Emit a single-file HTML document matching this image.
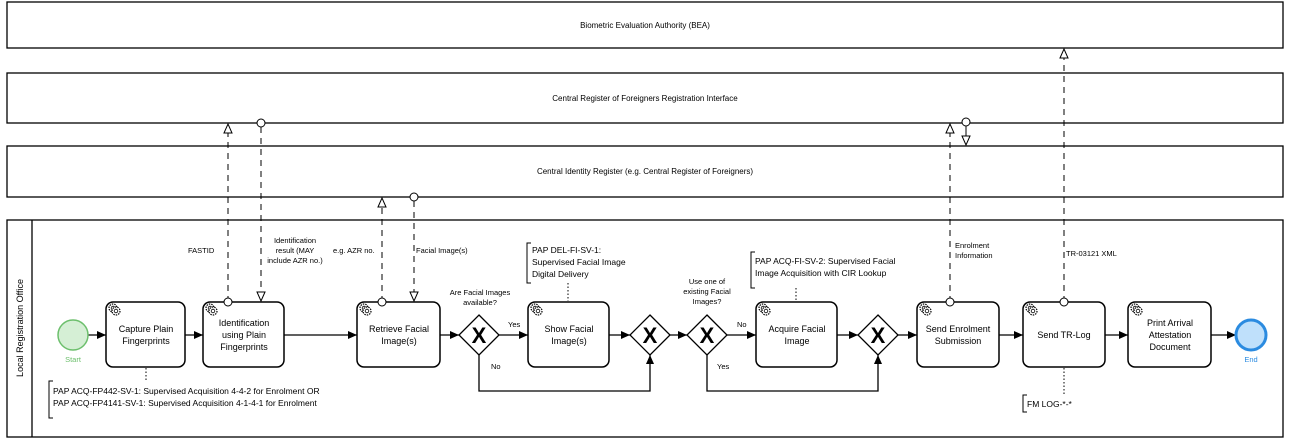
<!DOCTYPE html>
<html><head><style>
body{margin:0;background:#fff;}
svg{display:block;font-family:"Liberation Sans",Arial,sans-serif;}
</style></head><body>
<svg width="1290" height="439" viewBox="0 0 1290 439" xmlns="http://www.w3.org/2000/svg">
<defs>
<marker id="a" markerWidth="10" markerHeight="10" refX="9" refY="5" orient="auto" markerUnits="userSpaceOnUse"><path d="M0,1 L9,5 L0,9 Z" fill="#000"/></marker>
<marker id="o" markerWidth="12" markerHeight="12" refX="10" refY="5" orient="auto" markerUnits="userSpaceOnUse"><path d="M1,1 L10,5 L1,9 Z" fill="#fff" stroke="#000" stroke-width="1"/></marker>
<g id="gear"><circle cx="0" cy="0" r="4" fill="none" stroke="#000" stroke-width="1.2" stroke-dasharray="1.5 1"/><circle cx="0" cy="0" r="1.8" fill="none" stroke="#000" stroke-width="0.8"/><circle cx="3" cy="3" r="4" fill="#fff" stroke="#000" stroke-width="1.2" stroke-dasharray="1.5 1"/><circle cx="3" cy="3" r="1.8" fill="none" stroke="#000" stroke-width="0.8"/></g>
</defs>
<g fill="none" stroke="#000" stroke-width="1.3">
<rect x="7" y="2" width="1276" height="46"/>
<rect x="7" y="73" width="1276" height="50"/>
<rect x="7" y="146" width="1276" height="51"/>
<rect x="7" y="220" width="1276" height="217"/>
<line x1="32" y1="220" x2="32" y2="437"/>
</g>
<g font-size="8" text-anchor="middle" fill="#000">
<text x="645" y="28">Biometric Evaluation Authority (BEA)</text>
<text x="645" y="101">Central Register of Foreigners Registration Interface</text>
<text x="645" y="174">Central Identity Register (e.g. Central Register of Foreigners)</text>
<text transform="translate(23,328) rotate(-90)" font-size="9">Local Registration Office</text>
</g>
<g stroke="#000" stroke-width="1" stroke-dasharray="6 5" fill="none">
<line x1="228" y1="302" x2="228" y2="124" marker-end="url(#o)"/>
<line x1="261" y1="127" x2="261" y2="301" marker-end="url(#o)"/>
<line x1="382" y1="302" x2="382" y2="198" marker-end="url(#o)"/>
<line x1="414" y1="201" x2="414" y2="301" marker-end="url(#o)"/>
<line x1="950" y1="302" x2="950" y2="124" marker-end="url(#o)"/>
<line x1="1064" y1="302" x2="1064" y2="49" marker-end="url(#o)"/>
</g>
<line x1="966" y1="126" x2="966" y2="145" stroke="#000" stroke-width="1" marker-end="url(#o)"/>
<g font-size="7.5" fill="#000">
<text x="188" y="253">FASTID</text>
<text x="295" y="243" text-anchor="middle">Identification</text>
<text x="295" y="253" text-anchor="middle">result (MAY</text>
<text x="295" y="263" text-anchor="middle">include AZR no.)</text>
<text x="333" y="253">e.g. AZR no.</text>
<text x="416" y="253">Facial Image(s)</text>
<text x="955" y="248">Enrolment</text>
<text x="955" y="258">Information</text>
<text x="1066" y="256">TR-03121 XML</text>
<text x="480" y="295" text-anchor="middle">Are Facial Images</text>
<text x="480" y="305" text-anchor="middle">available?</text>
<text x="508" y="327">Yes</text>
<text x="491" y="369">No</text>
<text x="707" y="284" text-anchor="middle">Use one of</text>
<text x="707" y="294" text-anchor="middle">existing Facial</text>
<text x="707" y="304" text-anchor="middle">Images?</text>
<text x="737" y="327">No</text>
<text x="717" y="369">Yes</text>
</g>
<g stroke="#000" stroke-width="1.3" fill="none" marker-end="url(#a)">
<line x1="88" y1="335" x2="106" y2="335"/>
<line x1="185" y1="335" x2="203" y2="335"/>
<line x1="284" y1="335" x2="357" y2="335"/>
<line x1="440" y1="335" x2="459" y2="335"/>
<line x1="499" y1="335" x2="528" y2="335"/>
<line x1="609" y1="335" x2="630" y2="335"/>
<line x1="670" y1="335" x2="687" y2="335"/>
<line x1="727" y1="335" x2="756" y2="335"/>
<line x1="837" y1="335" x2="858" y2="335"/>
<line x1="898" y1="335" x2="917" y2="335"/>
<line x1="999" y1="335" x2="1023" y2="335"/>
<line x1="1105" y1="335" x2="1128" y2="335"/>
<line x1="1211" y1="335" x2="1236" y2="335"/>
<polyline points="479,355 479,391 650,391 650,355"/>
<polyline points="707,355 707,391 878,391 878,355"/>
</g>
<circle cx="73" cy="335" r="15" fill="#d5efd5" stroke="#6cbf6c" stroke-width="1.5"/>
<text x="73" y="362" font-size="7.5" fill="#6cbf6c" text-anchor="middle">Start</text>
<circle cx="1251" cy="335" r="15" fill="#bfe0fb" stroke="#2b8be0" stroke-width="3"/>
<text x="1251" y="362" font-size="7.5" fill="#2b8be0" text-anchor="middle">End</text>
<g stroke="#000" stroke-width="1.3" fill="#fff">
<polygon points="479,315 499,335 479,355 459,335"/>
<polygon points="650,315 670,335 650,355 630,335"/>
<polygon points="707,315 727,335 707,355 687,335"/>
<polygon points="878,315 898,335 878,355 858,335"/>
</g>
<g font-size="22" font-weight="bold" text-anchor="middle" fill="#000">
<text x="479" y="343">X</text><text x="650" y="343">X</text><text x="707" y="343">X</text><text x="878" y="343">X</text>
</g>
<g stroke="#000" stroke-width="1.5" fill="#fff">
<rect x="106" y="302" width="79" height="65" rx="7"/>
<rect x="203" y="302" width="81" height="65" rx="7"/>
<rect x="357" y="302" width="83" height="65" rx="7"/>
<rect x="528" y="302" width="81" height="65" rx="7"/>
<rect x="756" y="302" width="81" height="65" rx="7"/>
<rect x="917" y="302" width="82" height="65" rx="7"/>
<rect x="1023" y="302" width="82" height="65" rx="7"/>
<rect x="1128" y="302" width="83" height="65" rx="7"/>
</g>
<g fill="#fff" stroke="#000" stroke-width="1">
<circle cx="261" cy="123" r="4"/><circle cx="414" cy="197" r="4"/><circle cx="966" cy="122" r="4"/>
<circle cx="228" cy="302" r="4"/><circle cx="382" cy="302" r="4"/><circle cx="950" cy="302" r="4"/><circle cx="1064" cy="302" r="4"/>
</g>
<use href="#gear" x="113" y="308"/><use href="#gear" x="210" y="308"/><use href="#gear" x="364" y="308"/><use href="#gear" x="535" y="308"/><use href="#gear" x="763" y="308"/><use href="#gear" x="924" y="308"/><use href="#gear" x="1030" y="308"/><use href="#gear" x="1135" y="308"/>
<g font-size="9" text-anchor="middle" fill="#000">
<text x="146" y="332">Capture Plain</text><text x="146" y="344">Fingerprints</text>
<text x="244" y="326">Identification</text><text x="244" y="338">using Plain</text><text x="244" y="350">Fingerprints</text>
<text x="399" y="332">Retrieve Facial</text><text x="399" y="344">Image(s)</text>
<text x="569" y="332">Show Facial</text><text x="569" y="344">Image(s)</text>
<text x="797" y="332">Acquire Facial</text><text x="797" y="344">Image</text>
<text x="958" y="332">Send Enrolment</text><text x="958" y="344">Submission</text>
<text x="1064" y="338">Send TR-Log</text>
<text x="1170" y="326">Print Arrival</text><text x="1170" y="338">Attestation</text><text x="1170" y="350">Document</text>
</g>
<g stroke="#000" stroke-width="1" fill="none">
<line x1="146" y1="368" x2="146" y2="381" stroke-dasharray="1.5 2"/>
<polyline points="53,381 49,381 49,418 53,418"/>
<line x1="568" y1="283" x2="568" y2="301" stroke-dasharray="1.5 2"/>
<polyline points="531,243 527,243 527,283 531,283"/>
<line x1="796" y1="288" x2="796" y2="301" stroke-dasharray="1.5 2"/>
<polyline points="755,252 751,252 751,288 755,288"/>
<line x1="1064" y1="368" x2="1064" y2="395" stroke-dasharray="1.5 2"/>
<polyline points="1027,395 1023,395 1023,412 1027,412"/>
</g>
<g font-size="8.5" fill="#000">
<text x="53" y="394">PAP ACQ-FP442-SV-1: Supervised Acquisition 4-4-2 for Enrolment OR</text>
<text x="53" y="406">PAP ACQ-FP4141-SV-1: Supervised Acquisition 4-1-4-1 for Enrolment</text>
<text x="532" y="253">PAP DEL-FI-SV-1:</text>
<text x="532" y="265">Supervised Facial Image</text>
<text x="532" y="277">Digital Delivery</text>
<text x="755" y="264">PAP ACQ-FI-SV-2: Supervised Facial</text>
<text x="755" y="276">Image Acquisition with CIR Lookup</text>
<text x="1027" y="407">FM LOG-*-*</text>
</g>
</svg>
</body></html>
